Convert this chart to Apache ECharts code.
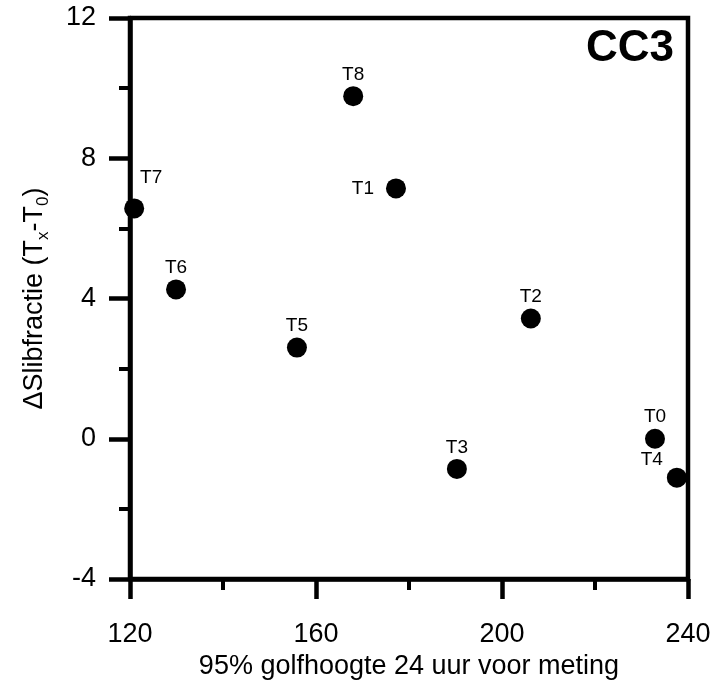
<!DOCTYPE html>
<html lang="nl">
<head>
    <meta charset="UTF-8">
    <title>CC3</title>
    <style>
        body { margin: 0; background: #fff; }
        #main { width: 720px; height: 692px; }
    </style>
</head>
<body>
    <div id="main"></div>
    <script src="https://cdn.jsdelivr.net/npm/echarts@6/dist/echarts.min.js"></script>
    <script>
        // data
        var labels = ['T0', 'T1', 'T2', 'T3', 'T4', 'T5', 'T6', 'T7', 'T8'];
        var golfhoogte = [232.9, 177.2, 206.2, 190.3, 237.6, 155.9, 129.9, 120.9, 168.0];
        var slibfractie = [0.0, 7.14, 3.43, -0.86, -1.11, 2.6, 4.26, 6.57, 9.77];

        // where each label sits relative to its dot
        var labelPlace = {
            T1: { position: 'left', distance: 12 },
            T4: { position: 'inside', offset: [-25, -18] },
            T7: { position: 'inside', offset: [17, -31] }
        };

        var font = 'Liberation Sans, Arial, sans-serif';

        var points = labels.map(function (t, i) {
            var p = labelPlace[t] || { position: 'top', distance: 2 };
            return {
                value: [golfhoogte[i], slibfractie[i]],
                label: Object.assign({ show: true, formatter: t }, p)
            };
        });

        var myChart = echarts.init(document.getElementById('main'));
        var option = {
            animation: false,
            title: {
                text: 'CC3',
                right: 41,
                top: 22,
                textStyle: {
                    fontFamily: font,
                    fontSize: 44,
                    fontWeight: 'bold',
                    color: '#000'
                }
            },
            grid: {
                left: 130,
                right: 32,
                top: 18,
                bottom: 113,
                show: true,
                borderColor: '#000',
                borderWidth: 4.5
            },
            xAxis: {
                type: 'value',
                min: 120,
                max: 240,
                interval: 40,
                name: '95% golfhoogte 24 uur voor meting',
                nameLocation: 'middle',
                nameGap: 74,
                nameTextStyle: { fontFamily: font, fontSize: 27, color: '#000' },
                axisLine: { onZero: false, lineStyle: { color: '#000', width: 4.5 } },
                axisTick: { inside: false, length: 20, lineStyle: { color: '#000', width: 4.5 } },
                minorTick: { show: true, splitNumber: 2, length: 11, lineStyle: { color: '#000', width: 4 } },
                axisLabel: { fontFamily: font, fontSize: 27, color: '#000', margin: 42 },
                splitLine: { show: false }
            },
            yAxis: {
                type: 'value',
                min: -4,
                max: 12,
                interval: 4,
                name: '{n|ΔSlibfractie (T}{s|x}{n|-T}{s|0}{n|)}',
                nameLocation: 'middle',
                nameGap: 78,
                nameRotate: 90,
                nameTextStyle: {
                    fontFamily: font,
                    color: '#000',
                    rich: {
                        n: { fontFamily: font, fontSize: 27, lineHeight: 34, verticalAlign: 'middle', color: '#000' },
                        s: { fontFamily: font, fontSize: 17, lineHeight: 17, verticalAlign: 'bottom', color: '#000' }
                    }
                },
                axisLine: { onZero: false, lineStyle: { color: '#000', width: 4.5 } },
                axisTick: { inside: false, length: 21, lineStyle: { color: '#000', width: 4.5 } },
                minorTick: { show: true, splitNumber: 2, length: 11, lineStyle: { color: '#000', width: 4 } },
                axisLabel: { fontFamily: font, fontSize: 27, color: '#000', margin: 34 },
                splitLine: { show: false }
            },
            series: [
                {
                    type: 'scatter',
                    symbol: 'circle',
                    symbolSize: 20,
                    itemStyle: { color: '#000', opacity: 1 },
                    label: { fontFamily: font, fontSize: 19, color: '#000' },
                    data: points
                }
            ]
        };
        myChart.setOption(option);
    </script>
</body>
</html>
